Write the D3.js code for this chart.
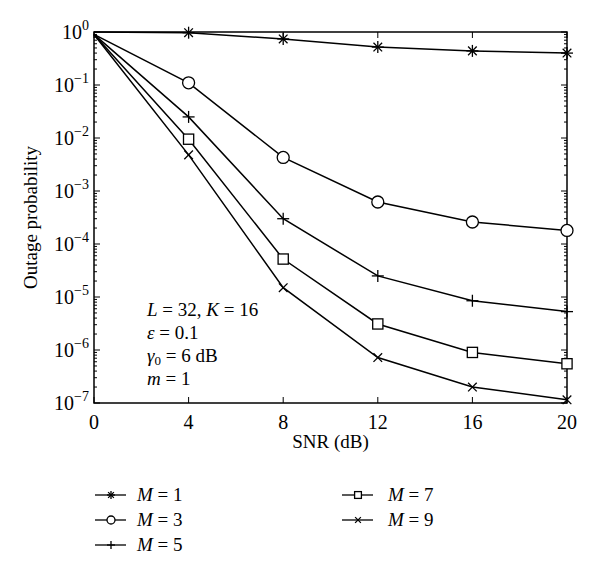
<!DOCTYPE html>
<html><head><meta charset="utf-8">
<script src="https://cdn.jsdelivr.net/npm/d3@7"></script>
<style>body{margin:0;background:#fff}svg{display:block}</style>
</head><body>
<svg id="c" width="600" height="573"></svg>
<script>
const snr = [0, 4, 8, 12, 16, 20];
const seriesNames = ["M = 1", "M = 3", "M = 5", "M = 7", "M = 9"];
const seriesMarkers = ["star", "circle", "plus", "square", "cross"];
const m1 = [1.0, 0.97, 0.74, 0.52, 0.44, 0.40];
const m3 = [0.9, 0.11, 4.3e-3, 6.2e-4, 2.6e-4, 1.8e-4];
const m5 = [0.9, 2.5e-2, 3.0e-4, 2.5e-5, 8.5e-6, 5.3e-6];
const m7 = [0.9, 9.5e-3, 5.2e-5, 3.1e-6, 9.0e-7, 5.5e-7];
const m9 = [0.9, 4.8e-3, 1.5e-5, 7.2e-7, 2.0e-7, 1.15e-7];
const xTicks = [0, 4, 8, 12, 16, 20];
const yExponents = [0, -1, -2, -3, -4, -5, -6, -7];
const allSeries = [m1, m3, m5, m7, m9];

const svg = d3.select("#c");
const L = 94, R = 567, T = 32, B = 403;
const x = d3.scaleLinear().domain([0, 20]).range([L, R]);
const y = d3.scaleLog().domain([1e-7, 1]).range([B, T]);
const font = "'Liberation Serif', 'DejaVu Serif', serif";

// frame
svg.append("rect").attr("x", L).attr("y", T).attr("width", R - L).attr("height", B - T)
  .attr("fill", "none").attr("stroke", "#000").attr("stroke-width", 1.5);

// minor y ticks
const minor = [];
for (let e = -7; e < 0; e++) for (let k = 2; k <= 9; k++) minor.push(k * Math.pow(10, e));
const gt = svg.append("g").attr("stroke", "#000").attr("stroke-width", 1);
minor.forEach(v => {
  gt.append("line").attr("x1", L).attr("x2", L + 3).attr("y1", y(v)).attr("y2", y(v));
  gt.append("line").attr("x1", R).attr("x2", R - 3).attr("y1", y(v)).attr("y2", y(v));
});
yExponents.forEach(e => {
  const v = Math.pow(10, e);
  gt.append("line").attr("x1", L).attr("x2", L + 6).attr("y1", y(v)).attr("y2", y(v));
  gt.append("line").attr("x1", R).attr("x2", R - 6).attr("y1", y(v)).attr("y2", y(v));
});
xTicks.forEach(t => {
  gt.append("line").attr("x1", x(t)).attr("x2", x(t)).attr("y1", B).attr("y2", B - 6);
  gt.append("line").attr("x1", x(t)).attr("x2", x(t)).attr("y1", T).attr("y2", T + 6);
});

// tick labels
xTicks.forEach(t => {
  svg.append("text").attr("x", x(t)).attr("y", B + 26).attr("text-anchor", "middle")
    .attr("font-family", font).attr("font-size", 20).text(t);
});
yExponents.forEach(e => {
  const tx = svg.append("text").attr("x", L - 5).attr("y", y(Math.pow(10, e)) + 7)
    .attr("text-anchor", "end").attr("font-family", font).attr("font-size", 20);
  tx.append("tspan").text("10");
  tx.append("tspan").attr("dy", -9).attr("font-size", 14).text(e === 0 ? "0" : "\u2212" + (-e));
});

// axis labels
svg.append("text").attr("x", (L + R) / 2).attr("y", 448).attr("text-anchor", "middle")
  .attr("font-family", font).attr("font-size", 19).text("SNR (dB)");
svg.append("text").attr("transform", `translate(37,${(T + B) / 2}) rotate(-90)`)
  .attr("text-anchor", "middle").attr("font-family", font).attr("font-size", 19).text("Outage probability");

// marker drawer
function marker(g, type, cx, cy, s) {
  const p = g.append("g").attr("transform", `translate(${cx},${cy})`)
    .attr("stroke", "#000").attr("stroke-width", 1.3).attr("fill", "none");
  if (type === "circle") p.append("circle").attr("r", s).attr("fill", "#fff");
  else if (type === "square") p.append("rect").attr("x", -s * 0.85).attr("y", -s * 0.85)
    .attr("width", s * 1.7).attr("height", s * 1.7).attr("fill", "#fff");
  else {
    const segs = [];
    if (type === "plus" || type === "star") segs.push([0, -s, 0, s], [-s, 0, s, 0]);
    if (type === "cross" || type === "star") { const d = s * 0.72; segs.push([-d, -d, d, d], [-d, d, d, -d]); }
    segs.forEach(a => p.append("line").attr("x1", a[0]).attr("y1", a[1]).attr("x2", a[2]).attr("y2", a[3]));
  }
}

// series
const line = d3.line().x(d => x(d[0])).y(d => y(d[1]));
allSeries.forEach((vals, i) => {
  const pts = snr.map((s, j) => [s, vals[j]]);
  svg.append("path").datum(pts).attr("d", line).attr("fill", "none")
    .attr("stroke", "#000").attr("stroke-width", 1.5);
  const g = svg.append("g");
  pts.slice(1).forEach(p => marker(g, seriesMarkers[i], x(p[0]), y(p[1]), 6));
});

// annotation
const ann = svg.append("g").attr("font-family", font).attr("font-size", 19);
const a1 = ann.append("text").attr("x", 147).attr("y", 316);
a1.append("tspan").attr("font-style", "italic").text("L");
a1.append("tspan").text(" = 32, ");
a1.append("tspan").attr("font-style", "italic").text("K");
a1.append("tspan").text(" = 16");
const a2 = ann.append("text").attr("x", 147).attr("y", 339);
a2.append("tspan").attr("font-style", "italic").text("\u03b5");
a2.append("tspan").text("  = 0.1");
const a3 = ann.append("text").attr("x", 147).attr("y", 362);
a3.append("tspan").attr("font-style", "italic").text("\u03b3");
a3.append("tspan").attr("font-size", 13).attr("dy", 3).text("0");
a3.append("tspan").attr("dy", -3).text(" = 6 dB");
const a4 = ann.append("text").attr("x", 147).attr("y", 385);
a4.append("tspan").attr("font-style", "italic").text("m");
a4.append("tspan").text(" = 1");

// legend
const legPos = [[95, 495, 42], [95, 520, 42], [95, 545, 42], [342, 495, 46], [342, 520, 46]];
seriesNames.forEach((n, i) => {
  const [lx, ly, off] = legPos[i];
  const g = svg.append("g");
  g.append("line").attr("x1", lx).attr("x2", lx + 31).attr("y1", ly).attr("y2", ly)
    .attr("stroke", "#000").attr("stroke-width", 1.3);
  marker(g, seriesMarkers[i], lx + 16, ly, 4);
  const t = g.append("text").attr("x", lx + off).attr("y", ly + 6).attr("font-family", font).attr("font-size", 19);
  const parts = n.split(" = ");
  t.append("tspan").attr("font-style", "italic").text(parts[0]);
  t.append("tspan").text(" = " + parts[1]);
});
</script>
</body></html>
